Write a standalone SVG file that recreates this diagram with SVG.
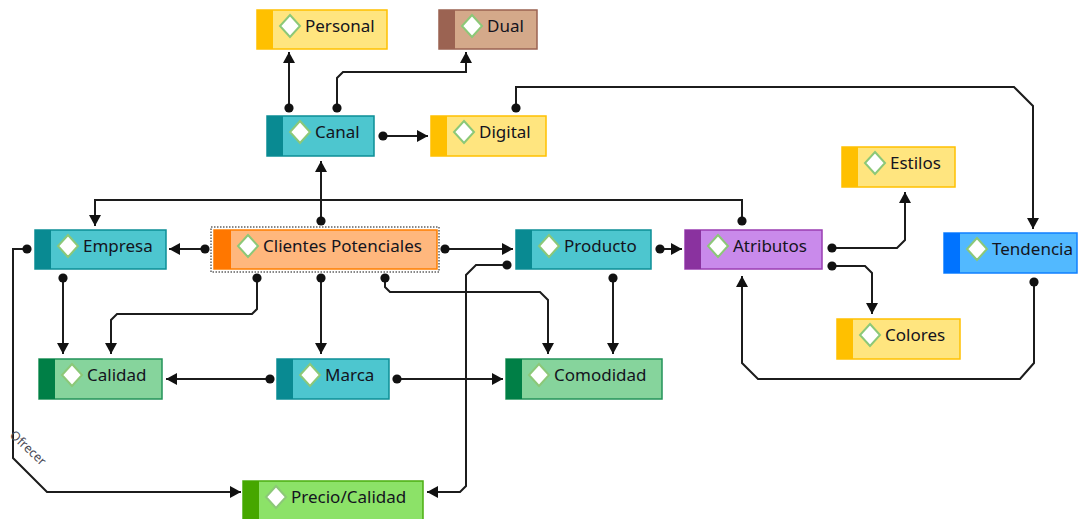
<svg xmlns="http://www.w3.org/2000/svg" width="1078" height="519" viewBox="0 0 1078 519">
<style>
.box{stroke-width:1.5}
.lbl{font-family:"Noto Sans","Open Sans","DejaVu Sans",sans-serif;font-size:17px;fill:#141420}
.dia{fill:#fff;stroke:#8cc878;stroke-width:2}
.c{fill:none;stroke:#1c1c1c;stroke-width:2;marker-start:url(#dot);marker-end:url(#arr)}
.yel .box{fill:#ffe57f;stroke:#ffc000}.yel .st{fill:#ffc000}
.brn .box{fill:#d4a98a;stroke:#9b6352}.brn .st{fill:#9b6352}
.tea .box{fill:#4dc6cf;stroke:#0d8e96}.tea .st{fill:#098a92}
.org .box{fill:#ffb77d;stroke:#ff7f00}.org .st{fill:#ff7700}
.pur .box{fill:#c98aeb;stroke:#9a3eb2}.pur .st{fill:#8a329f}
.blu .box{fill:#52b9ff;stroke:#1080ff}.blu .st{fill:#0073ff}
.grn .box{fill:#86d49c;stroke:#23935a}.grn .st{fill:#007f46}
.lgr .box{fill:#8ce268;stroke:#4bae10}.lgr .st{fill:#46a700}
.elbl{font-family:"Noto Sans","DejaVu Sans",sans-serif;font-size:12.5px;fill:#4a4a55}
</style>
<defs>
<marker id="dot" markerUnits="userSpaceOnUse" markerWidth="12" markerHeight="12" refX="6" refY="6" orient="auto"><circle cx="6" cy="6" r="4.6" fill="#111"/></marker>
<marker id="arr" markerUnits="userSpaceOnUse" markerWidth="14" markerHeight="14" refX="12" refY="7" orient="auto"><path d="M1,1 L12,7 L1,13 Z" fill="#111"/></marker>
</defs>
<g id="connectors">
<path class="c" d="M289,108 L289,52"/>
<path class="c" d="M337,108 L337,78 L343,72 L466,72 L466,52"/>
<path class="c" d="M383,136 L428,136"/>
<path class="c" d="M516,108 L516,87 L1014,87 L1033,106 L1033,229"/>
<path class="c" d="M321,221 L321,161"/>
<path class="c" d="M742,221 L742,200 L95,200 L95,226"/>
<path class="c" d="M205,249 L169,249"/>
<path class="c" d="M445,249 L513,249"/>
<path class="c" d="M660,249 L682,249"/>
<path class="c" d="M507,265 L476,265 L466,275 L466,486 L460,492 L427,492"/>
<path class="c" d="M27,249 L13,249 L13,458 L47,492 L241,492"/>
<path class="c" d="M257,278 L257,309 L252,314 L117,314 L111,320 L111,354"/>
<path class="c" d="M63,278 L63,354"/>
<path class="c" d="M321,278 L321,354"/>
<path class="c" d="M385,278 L385,287 L390,292 L540,292 L548,300 L548,354"/>
<path class="c" d="M613,278 L613,354"/>
<path class="c" d="M270,379 L166,379"/>
<path class="c" d="M397,379 L503,379"/>
<path class="c" d="M832,248 L897,248 L905,240 L905,192"/>
<path class="c" d="M832,266 L865,266 L872,273 L872,314"/>
<path class="c" d="M1034,282 L1034,363 L1020,379 L758,379 L742,363 L742,276"/>
<text class="elbl" transform="translate(9,436) rotate(43)">Ofrecer</text>
</g>
<g id="personal" class="yel"><rect class="box" x="257" y="10" width="130" height="39"/><rect class="st" x="257" y="10" width="16" height="39"/><path class="dia" d="M290,15 L300,26 L290,37 L280,26 Z"/><text class="lbl" x="305" y="32">Personal</text></g>
<g id="dual" class="brn"><rect class="box" x="439" y="10" width="98" height="39"/><rect class="st" x="439" y="10" width="16" height="39"/><path class="dia" d="M472,15 L482,26 L472,37 L462,26 Z"/><text class="lbl" x="487" y="32">Dual</text></g>
<g id="canal" class="tea"><rect class="box" x="267" y="116" width="107" height="40"/><rect class="st" x="267" y="116" width="16" height="40"/><path class="dia" d="M300,121 L310,132 L300,143 L290,132 Z"/><text class="lbl" x="315" y="138">Canal</text></g>
<g id="digital" class="yel"><rect class="box" x="431" y="116" width="115" height="40"/><rect class="st" x="431" y="116" width="16" height="40"/><path class="dia" d="M464,121 L474,132 L464,143 L454,132 Z"/><text class="lbl" x="479" y="138">Digital</text></g>
<g id="estilos" class="yel"><rect class="box" x="842" y="147" width="113" height="40"/><rect class="st" x="842" y="147" width="16" height="40"/><path class="dia" d="M875,152 L885,163 L875,174 L865,163 Z"/><text class="lbl" x="890" y="169">Estilos</text></g>
<g id="empresa" class="tea"><rect class="box" x="35" y="230" width="131" height="39"/><rect class="st" x="35" y="230" width="16" height="39"/><path class="dia" d="M68,235 L78,246 L68,257 L58,246 Z"/><text class="lbl" x="83" y="252">Empresa</text></g>
<g id="clientes" class="org"><rect x="211" y="227" width="228" height="45" fill="none" stroke="#111" stroke-width="1" stroke-dasharray="1.5,1.5"/><rect class="box" x="214" y="230" width="223" height="39"/><rect class="st" x="214" y="230" width="17" height="39"/><path class="dia" d="M248,235 L258,246 L248,257 L238,246 Z"/><text class="lbl" x="263" y="252">Clientes Potenciales</text></g>
<g id="producto" class="tea"><rect class="box" x="516" y="230" width="135" height="39"/><rect class="st" x="516" y="230" width="16" height="39"/><path class="dia" d="M549,235 L559,246 L549,257 L539,246 Z"/><text class="lbl" x="564" y="252">Producto</text></g>
<g id="atributos" class="pur"><rect class="box" x="685" y="230" width="137" height="39"/><rect class="st" x="685" y="230" width="16" height="39"/><path class="dia" d="M718,235 L728,246 L718,257 L708,246 Z"/><text class="lbl" x="733" y="252">Atributos</text></g>
<g id="tendencia" class="blu"><rect class="box" x="944" y="233" width="133" height="40"/><rect class="st" x="944" y="233" width="16" height="40"/><path class="dia" d="M977,238 L987,249 L977,260 L967,249 Z"/><text class="lbl" x="992" y="255">Tendencia</text></g>
<g id="colores" class="yel"><rect class="box" x="837" y="319" width="123" height="40"/><rect class="st" x="837" y="319" width="16" height="40"/><path class="dia" d="M870,324 L880,335 L870,346 L860,335 Z"/><text class="lbl" x="885" y="341">Colores</text></g>
<g id="calidad" class="grn"><rect class="box" x="39" y="359" width="123" height="40"/><rect class="st" x="39" y="359" width="16" height="40"/><path class="dia" d="M72,364 L82,375 L72,386 L62,375 Z"/><text class="lbl" x="87" y="381">Calidad</text></g>
<g id="marca" class="tea"><rect class="box" x="277" y="359" width="112" height="40"/><rect class="st" x="277" y="359" width="16" height="40"/><path class="dia" d="M310,364 L320,375 L310,386 L300,375 Z"/><text class="lbl" x="325" y="381">Marca</text></g>
<g id="comodidad" class="grn"><rect class="box" x="506" y="359" width="156" height="40"/><rect class="st" x="506" y="359" width="16" height="40"/><path class="dia" d="M539,364 L549,375 L539,386 L529,375 Z"/><text class="lbl" x="554" y="381">Comodidad</text></g>
<g id="precio" class="lgr"><rect class="box" x="243" y="481" width="180" height="40"/><rect class="st" x="243" y="481" width="16" height="40"/><path class="dia" d="M276,486 L286,497 L276,508 L266,497 Z"/><text class="lbl" x="291" y="503">Precio/Calidad</text></g>
</svg>
